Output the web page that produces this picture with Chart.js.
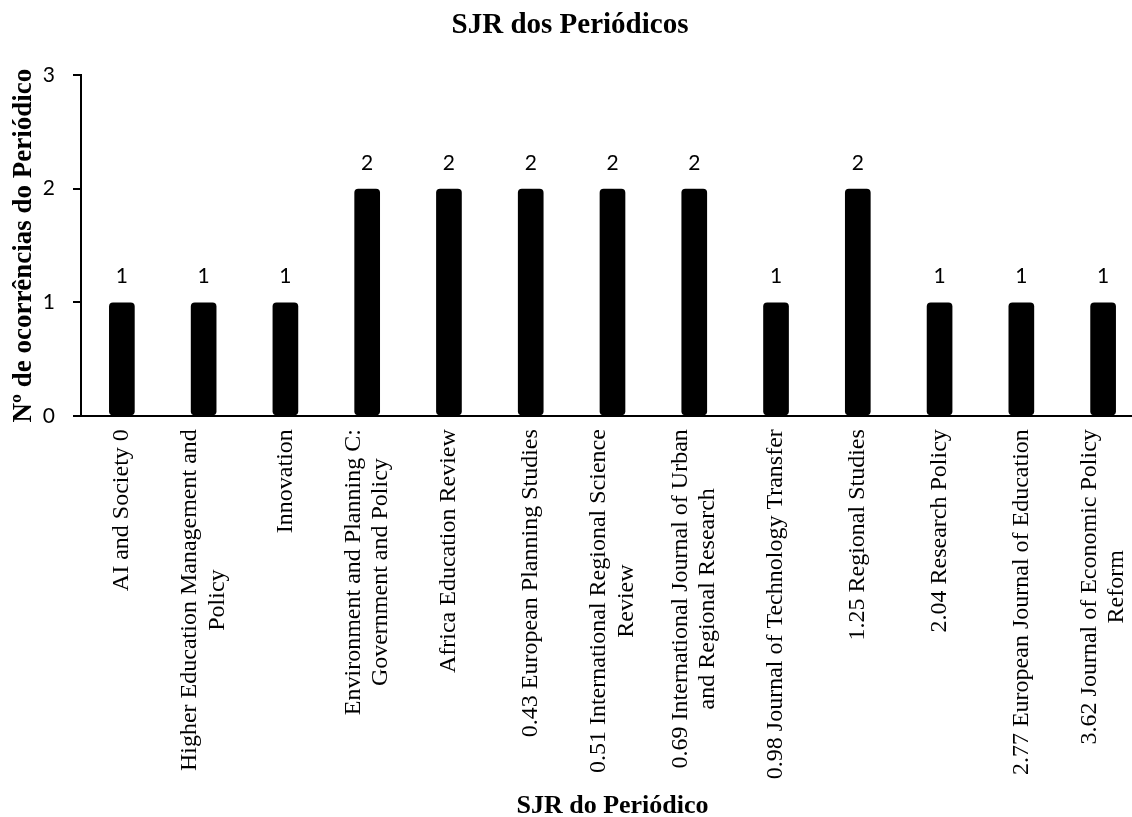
<!DOCTYPE html>
<html>
<head>
<meta charset="utf-8">
<script src="https://cdn.jsdelivr.net/npm/chart.js@4"></script>
<style>
  html, body { margin: 0; padding: 0; background: #ffffff; }
  #wrap { width: 1132px; height: 817px; }
</style>
</head>
<body>
<div id="wrap"><canvas id="c" width="1132" height="817"></canvas></div>
<script>
const chartTitle = "SJR dos Periódicos";
const xTitle = "SJR do Periódico";
const yTitle = "Nº de ocorrências do Periódico";
const categories = [
  "AI and Society 0",
  ["Higher Education Management and", "Policy"],
  "Innovation",
  ["Environment and Planning C:", "Government and Policy"],
  "Africa Education Review",
  "0.43 European Planning Studies",
  ["0.51 International Regional Science", "Review"],
  ["0.69 International Journal of Urban", "and Regional Research"],
  "0.98 Journal of Technology Transfer",
  "1.25 Regional Studies",
  "2.04 Research Policy",
  "2.77 European Journal of Education",
  ["3.62 Journal of Economic Policy", "Reform"]
];
const occurrences = [1, 1, 1, 2, 2, 2, 2, 2, 1, 2, 1, 1, 1];
const yTicks = [0, 1, 2, 3];

const SERIF = "'Liberation Serif', 'Times New Roman', serif";
const SANS = "Lato, 'Liberation Sans', sans-serif";
const X_LABEL_SIZE = 24;
const X_LABEL_LH = 27.6;
const X_LABEL_OFFSET = 13;
const X_AXIS_OVERHANG = 12;

// The plot area of the original runs slightly past the right edge of the picture.
const extendX = {
  id: 'extendX',
  afterLayout(chart) {
    const sc = chart.scales.x;
    sc.right += X_AXIS_OVERHANG;
    sc.width = sc.right - sc.left;
    sc.configure();
  }
};

const valueLabels = {
  id: 'valueLabels',
  afterDatasetsDraw(chart) {
    const ctx = chart.ctx;
    const meta = chart.getDatasetMeta(0);
    ctx.save();
    ctx.fillStyle = '#000';
    ctx.font = "21px " + SANS;
    ctx.textAlign = 'center';
    ctx.textBaseline = 'alphabetic';
    meta.data.forEach((el, i) => {
      ctx.fillText(String(chart.data.datasets[0].data[i]), el.x, el.y - 19);
    });
    ctx.restore();
  }
};

const centeredXLabels = {
  id: 'centeredXLabels',
  afterDraw(chart) {
    const sc = chart.scales.x;
    const ctx = chart.ctx;
    const yTop = sc.top + X_LABEL_OFFSET;
    ctx.save();
    ctx.fillStyle = '#000';
    ctx.font = X_LABEL_SIZE + "px " + SERIF;
    ctx.textAlign = 'center';
    ctx.textBaseline = 'middle';
    sc.ticks.forEach((t, i) => {
      const lab = chart.data.labels[i];
      const lines = Array.isArray(lab) ? lab : [lab];
      const maxW = Math.max(...lines.map(l => ctx.measureText(l).width));
      const x = sc.getPixelForTick(i);
      ctx.save();
      ctx.translate(x, yTop);
      ctx.rotate(-Math.PI / 2);
      lines.forEach((l, j) => {
        ctx.fillText(l, -maxW / 2, (j - (lines.length - 1) / 2) * X_LABEL_LH);
      });
      ctx.restore();
    });
    ctx.restore();
  }
};

new Chart(document.getElementById('c'), {
  type: 'bar',
  data: {
    labels: categories,
    datasets: [{
      data: occurrences,
      backgroundColor: '#000000',
      borderWidth: 0,
      borderRadius: 4,
      borderSkipped: false,
      barPercentage: 0.314,
      categoryPercentage: 1.0
    }]
  },
  options: {
    responsive: false,
    animation: false,
    layout: { padding: { left: 8, right: 0, top: 0, bottom: 0 } },
    plugins: {
      legend: { display: false },
      tooltip: { enabled: false },
      title: {
        display: true,
        text: chartTitle,
        color: '#000',
        font: { family: SERIF, size: 29, weight: 'bold', lineHeight: 1.2 },
        padding: { top: 8.6, bottom: 31.6 }
      }
    },
    scales: {
      x: {
        type: 'category',
        offset: true,
        grid: { display: true, drawOnChartArea: false, drawTicks: false },
        border: { display: true, color: '#000', width: 2 },
        ticks: {
          color: 'rgba(0,0,0,0)',
          autoSkip: false,
          maxRotation: 90,
          minRotation: 90,
          padding: 15,
          font: { family: SERIF, size: X_LABEL_SIZE, lineHeight: 0.1 }
        },
        title: {
          display: true,
          text: xTitle,
          color: '#000',
          font: { family: SERIF, size: 26, weight: 'bold', lineHeight: 0.8 },
          padding: { top: 0, bottom: 0 }
        }
      },
      y: {
        min: 0,
        max: 3,
        afterBuildTicks(scale) { scale.ticks = yTicks.map(v => ({ value: v })); },
        grid: { display: true, drawOnChartArea: false, drawTicks: true, tickLength: 8, color: '#000', lineWidth: 2 },
        border: { display: true, color: '#000', width: 2 },
        ticks: {
          color: '#000',
          padding: 18,
          font: { family: SANS, size: 21 }
        },
        title: {
          display: true,
          text: yTitle,
          color: '#000',
          font: { family: SERIF, size: 27, weight: 'bold', lineHeight: 1.2 },
          padding: { top: 0, bottom: -15.6 }
        }
      }
    }
  },
  plugins: [extendX, valueLabels, centeredXLabels]
});
</script>
</body>
</html>
